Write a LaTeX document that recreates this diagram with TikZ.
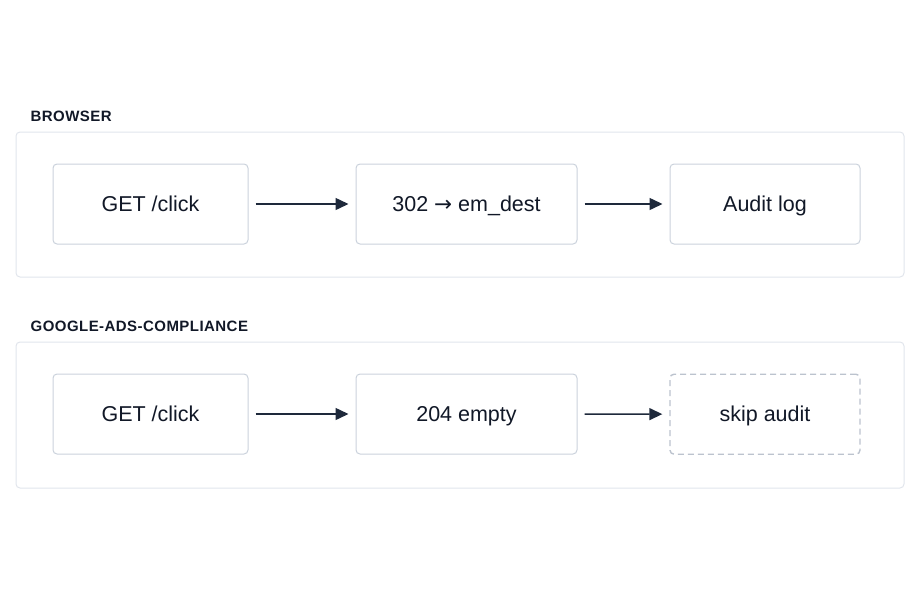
\documentclass[tikz,border=0pt]{standalone}
\usepackage{fontspec}
\setmainfont{Liberation Sans}
\newfontfamily\symfont{DejaVu Sans}
\usepackage{xcolor}
\usepackage{tikz}
\usetikzlibrary{arrows.meta,positioning}

\definecolor{ink}{HTML}{111827}
\definecolor{arrowink}{HTML}{1E293B}
\definecolor{boxline}{HTML}{CBD2DC}
\definecolor{panelline}{HTML}{E1E5EC}
\definecolor{dashline}{HTML}{BCC3CE}

\begin{document}
\begin{tikzpicture}[
    x=1pt, y=-1pt,
    panel/.style={rectangle, draw=panelline, line width=1pt, rounded corners=4pt, minimum width=888pt, inner sep=0pt},
    lbl/.style={inner sep=0pt, anchor=base west, text=ink, font=\fontsize{15}{18}\selectfont\bfseries\addfontfeature{LetterSpace=3}},
    box/.style={rectangle, draw=boxline, line width=1pt, rounded corners=4pt, fill=white, minimum height=80pt, inner sep=0pt, text height=15.5pt, text depth=0pt, text=ink, font=\fontsize{21.5}{26}\selectfont},
    skipbox/.style={box, draw=dashline, line width=1.4pt, dash pattern=on 6pt off 4pt},
    arrow/.style={-{Triangle[length=13pt,width=12pt]}, line width=1.5pt, draw=arrowink, shorten <=7pt, shorten >=7pt}
]
\useasboundingbox (0,0) rectangle (920,613);

% Panels
\node[panel, minimum height=145pt] (browser) at (460,204.5) {};
\node[panel, minimum height=146pt] (google) at (460,415) {};

% Panel labels
\node[lbl] (browserlbl) at ([xshift=15pt,yshift=10pt]browser.north west) {BROWSER};
\node[lbl] (googlelbl) at ([xshift=15pt,yshift=10pt]google.north west) {GOOGLE-ADS-COMPLIANCE};

% Browser flow
\node[box, minimum width=195pt] (getA) at (150.5,204) {GET /click};
\node[box, minimum width=221pt, right=107pt of getA] (redirect) {302 {\symfont →} em\_dest};
\node[box, minimum width=190pt, right=92pt of redirect] (audit) {Audit log};

% Compliance flow
\node[box, minimum width=195pt, below=129pt of getA] (getB) {GET /click};
\node[box, minimum width=221pt, below=129pt of redirect] (empty) {204 empty};
\node[skipbox, minimum width=190pt, below=129pt of audit] (skip) {skip audit};

% Arrows
\draw[arrow] (getA) -- (redirect);
\draw[arrow] (redirect) -- (audit);
\draw[arrow] (getB) -- (empty);
\draw[arrow] (empty) -- (skip);

\end{tikzpicture}
\end{document}
